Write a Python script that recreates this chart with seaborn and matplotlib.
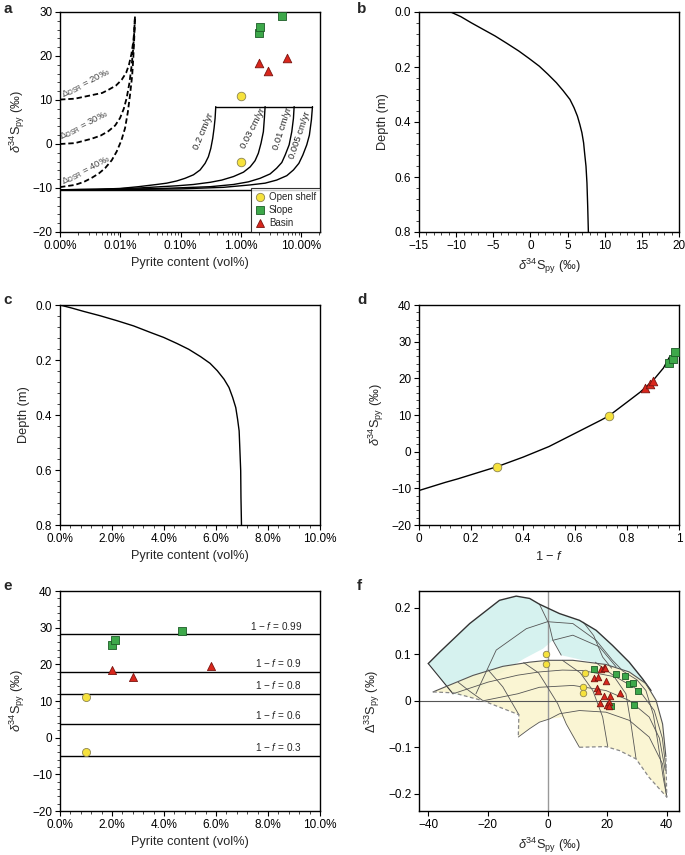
import numpy as np
import pandas as pd
import seaborn as sns
import matplotlib.pyplot as plt
from matplotlib.ticker import FixedLocator, AutoMinorLocator, LogLocator, NullFormatter
from matplotlib.lines import Line2D

sns.set_theme(style='ticks')
plt.rcParams['font.family'] = ['Liberation Sans', 'DejaVu Sans']
plt.rcParams['mathtext.fontset'] = 'custom'
plt.rcParams['mathtext.rm'] = 'Liberation Sans'
plt.rcParams['mathtext.it'] = 'Liberation Sans:italic'
plt.rcParams['mathtext.bf'] = 'Liberation Sans:bold'

# ---- samples: pyrite content (vol%) and d34S (permil)
shelf_pyr = [1.0, 1.0]
shelf_d34 = [11.0, -4.0]
slope_pyr = [2.0, 2.1, 4.7]
slope_d34 = [25.3, 26.7, 29.0]
basin_pyr = [2.0, 2.8, 5.8]
basin_d34 = [18.5, 16.5, 19.5]

# ---- panel a: model curves
dsr20_x = [0.001, 0.00177, 0.00335, 0.0050, 0.00632, 0.0085, 0.01054, 0.0125, 0.0139, 0.0153, 0.0164, 0.0171, 0.0175]
dsr20_y = [10.1, 10.3, 11.1, 11.6, 12.3, 13.3, 14.6, 16.2, 18.0, 20.5, 23.3, 26.0, 29.0]
dsr30_x = [0.001, 0.00177, 0.00335, 0.0047, 0.00632, 0.0082, 0.00989, 0.0114, 0.01276, 0.0142, 0.01545, 0.0163, 0.0169, 0.0175]
dsr30_y = [0.0, 0.2, 1.2, 1.9, 2.9, 4.2, 5.9, 8.0, 10.5, 14.0, 18.0, 21.5, 24.8, 29.0]
dsr40_x = [0.001, 0.00177, 0.0025, 0.00335, 0.0044, 0.00558, 0.0072, 0.00871, 0.0104, 0.01197, 0.0133, 0.01449,
           0.0157, 0.0164, 0.0170, 0.0175]
dsr40_y = [-9.8, -9.3, -8.6, -7.7, -6.7, -5.5, -3.7, -1.7, 0.8, 3.6, 7.2, 11.2, 15.5, 19.5, 24.0, 29.0]
dsr_labels = ['20‰', '30‰', '40‰']

sed02_x = [0.001, 0.004, 0.01, 0.02, 0.040, 0.0588, 0.086, 0.118, 0.163, 0.210, 0.254, 0.288, 0.316, 0.340,
           0.358, 0.372, 0.382]
sed02_y = [-10.4, -10.3, -10.1, -9.7, -9.2, -8.9, -8.4, -7.8, -7.0, -5.9, -4.4, -2.9, -1.0, 1.3, 3.6, 5.8, 8.5]
sed003_x = [0.001, 0.005, 0.02, 0.086, 0.163, 0.31, 0.48, 0.75, 1.10, 1.42, 1.71, 1.94, 2.15, 2.35, 2.44, 2.51]
sed003_y = [-10.4, -10.3, -10.0, -9.5, -9.2, -8.7, -8.2, -7.4, -6.4, -5.2, -3.8, -2.1, 0.2, 2.8, 5.8, 8.5]
sed001_x = [0.001, 0.01, 0.05, 0.31, 0.75, 1.33, 2.07, 3.04, 3.9, 4.75, 5.4, 6.28, 6.95, 7.4, 7.6]
sed001_y = [-10.4, -10.3, -10.1, -9.7, -9.2, -8.6, -7.8, -6.8, -5.5, -4.2, -2.5, -0.2, 2.8, 5.8, 8.5]
sed0005_x = [0.001, 0.01, 0.1, 0.51, 1.42, 2.51, 3.9, 5.74, 7.4, 9.1, 10.6, 12.3, 13.6, 14.7, 15.3]
sed0005_y = [-10.4, -10.35, -10.2, -9.85, -9.3, -8.9, -8.2, -7.2, -5.9, -4.4, -2.5, -0.2, 2.0, 5.5, 8.5]
cap_x = [0.382, 15.3]
cap_y = [8.5, 8.5]
base_d34 = -10.4
rate_labels = ['0.2 cm/yr', '0.03 cm/yr', '0.01 cm/yr', '0.005 cm/yr']

# ---- panel b, c: depth profiles
b_d34 = [-10.73, -9.36, -7.98, -6.38, -4.77, -3.17, -1.56, -0.18, 1.19, 2.34, 3.49, 4.40, 5.32, 5.87, 6.33,
         6.65, 6.93, 7.16, 7.29, 7.48, 7.61, 7.71, 7.80]
b_depth = [0, 0.017, 0.039, 0.063, 0.087, 0.114, 0.142, 0.169, 0.197, 0.226, 0.257, 0.286, 0.318, 0.348, 0.379,
           0.409, 0.439, 0.476, 0.512, 0.561, 0.622, 0.707, 0.8]
c_pyr = [0, 0.45, 0.90, 1.54, 2.19, 2.83, 3.47, 3.99, 4.50, 4.95, 5.41, 5.77, 6.05, 6.31, 6.50, 6.64, 6.76,
         6.83, 6.89, 6.92, 6.95, 6.96, 6.98]
c_depth = [0, 0.011, 0.023, 0.039, 0.057, 0.076, 0.0995, 0.118, 0.140, 0.161, 0.188, 0.212, 0.239, 0.270,
           0.300, 0.336, 0.373, 0.415, 0.458, 0.530, 0.603, 0.700, 0.8]

# ---- panel d: Rayleigh curve
d_frac = [0.0, 0.05, 0.1, 0.15, 0.2, 0.3, 0.4, 0.5, 0.6, 0.7, 0.731, 0.8, 0.85, 0.9, 0.94, 0.965]
d_d34 = [-10.6, -9.5, -8.4, -7.4, -6.3, -4.1, -1.5, 1.4, 5.0, 8.6, 9.8, 13.5, 16.2, 19.4, 22.8, 26.0]
shelf_frac = [0.30, 0.73]
shelf_d34d = [-4.2, 9.7]
basin_frac = [0.868, 0.887, 0.90]
basin_d34d = [17.3, 18.4, 19.3]
slope_frac = [0.963, 0.975, 0.983]
slope_d34d = [24.3, 25.3, 27.3]

# ---- panel e: 1-f levels
e_frac_labels = ['0.99', '0.9', '0.8', '0.6', '0.3']
e_levels = [28.2, 17.9, 12.0, 3.75, -4.9]

# ---- panel f: d34S vs D33S
f_shelf_x = [-0.67, -0.67, 12.7, 12.0, 11.8]
f_shelf_y = [0.101, 0.080, 0.0595, 0.029, 0.017]
f_slope_x = [15.5, 23.0, 26.1, 27.2, 28.8, 30.3, 28.9, 21.4]
f_slope_y = [0.0675, 0.0567, 0.053, 0.0366, 0.038, 0.0207, -0.0086, -0.0123]
f_basin_x = [17.9, 18.8, 19.4, 15.5, 17.0, 19.6, 24.3, 16.6, 16.8, 18.8, 20.9, 17.6, 20.0, 20.7, 20.5]
f_basin_y = [0.069, 0.0714, 0.0714, 0.049, 0.051, 0.042, 0.0164, 0.027, 0.0205, 0.011, 0.011, -0.004, -0.009, -0.0028, -0.0115]

cyan_x = [-40.0, -36.1, -26.1, -16.1, -10.5, -6.0, -2.7, 4.0, 10.7, 16.3, 21.8, 27.4, 31.9, 34.7,
          27.0, 20.0, 12.0, 4.6, 1.8, -1.5, -8.0, -18.0, -25.0, -31.7]
cyan_y = [0.080, 0.105, 0.166, 0.216, 0.225, 0.220, 0.2076, 0.1875, 0.173, 0.1515, 0.119, 0.083, 0.047, 0.022,
          0.062, 0.078, 0.087, 0.098, 0.130, 0.112, 0.090, 0.050, 0.008, 0.015]
yel_x = [-38.4, -25, -15, -6, 0, 8.5, 19.6, 27.4, 33.0, 36.4, 38.6, 39.7, 40.0, 34.1, 29.7, 24.1, 19.6,
         10.7, 8.3, 6.3, 5.0, 0.7, -2.7, -6, -9.8, -9.6, -21.6, -31.5]
yel_y = [0.019, 0.0545, 0.074, 0.083, 0.087, 0.087, 0.078, 0.062, 0.037, 0.001, -0.050, -0.120, -0.207,
         -0.165, -0.125, -0.107, -0.0985, -0.100, -0.075, -0.050, -0.035, -0.039, -0.046, -0.060, -0.078,
         -0.030, 0.0, 0.017]
yel_top_x = [-38.4, -25, -15, -6, 0, 8.5, 19.6, 27.4, 33.0, 36.4, 38.6, 39.7]
yel_top_y = [0.019, 0.0545, 0.074, 0.083, 0.087, 0.087, 0.078, 0.062, 0.037, 0.001, -0.050, -0.120]
yel_dash1_x = [-38.4, -31.5, -21.6, -9.6, -9.8]
yel_dash1_y = [0.019, 0.017, 0.0, -0.030, -0.078]
yel_dash2_x = [10.7, 19.6, 24.1, 29.7, 34.1, 40.0, 39.7]
yel_dash2_y = [-0.100, -0.0985, -0.107, -0.125, -0.165, -0.207, -0.120]
mesh_lines = [
    ([-31.7, -20, -10, -2.7, 5, 11.8, 23, 30.8, 35.8, 38.5, 39.8],
     [0.015, 0.040, 0.055, 0.062, 0.066, 0.065, 0.051, 0.022, -0.021, -0.08, -0.15]),
    ([-21.6, -10, -2.7, 8.5, 19.6, 27.4, 34.1, 37.5, 39.5],
     [0.0, 0.015, 0.029, 0.033, 0.022, 0.0006, -0.035, -0.08, -0.15]),
    ([-9.8, -6, -2.7, 0.7, 4.0, 10.7, 19.6, 27.4, 34.1, 38.6, 40.0],
     [-0.078, -0.060, -0.046, -0.039, -0.028, -0.021, -0.0245, -0.042, -0.078, -0.136, -0.207]),
    ([-8, -3, 0.7, 3.4, 6.3, 10.7], [0.082, 0.06, 0.022, -0.006, -0.05, -0.1]),
    ([5, 11, 15.2, 18.5, 20.2], [0.087, 0.06, 0.022, -0.035, -0.0985]),
    ([16, 22, 26.3, 28, 29.7], [0.083, 0.055, 0.015, -0.05, -0.125]),
    ([25, 30, 33, 35.5, 36.9, 38.8, 40], [0.065, 0.045, 0.022, -0.03, -0.085, -0.165, -0.207]),
    ([-20, -15, -9.6], [0.067, 0.03, -0.03]),
    ([-30, -26, -21.6], [0.04, 0.02, 0.0]),
    ([-24, -17.2, -7.1, 0, 8.5, 16.3, 21.8, 25], [0.015, 0.109, 0.155, 0.170, 0.166, 0.130, 0.087, 0.066]),
    ([1.8, 8.5, 17.4, 23], [0.13, 0.141, 0.116, 0.073]),
    ([-2.7, 0.5, 1.8, 4.6], [0.2076, 0.165, 0.13, 0.098]),
    ([12, 15.5, 18.5, 21.5], [0.169, 0.14, 0.094, 0.07]),
]

YEL, YEL_E = '#f6e23c', '#8c8450'
GRN, GRN_E = '#3da84a', '#1d5c27'
RED, RED_E = '#d9261c', '#7a1510'


def style(ax, minor_x=True, minor_y=True):
    for s in ax.spines.values():
        s.set_visible(True)
        s.set_linewidth(1.0)
        s.set_color('black')
    ax.tick_params(which='major', direction='out', length=3.5, width=0.8, labelsize=8.5,
                   top=False, right=False, colors='black', pad=2)
    ax.tick_params(which='minor', direction='out', length=2, width=0.6, top=False, right=False)
    if minor_x:
        ax.xaxis.set_minor_locator(AutoMinorLocator(5))
    if minor_y:
        ax.yaxis.set_minor_locator(AutoMinorLocator(5))
    ax.grid(False)
    ax.set_facecolor('white')


def samples(ax, xs, ys, s=38):
    for x, y, m, c, e in zip(xs, ys, ['o', 's', '^'], [YEL, GRN, RED], [YEL_E, GRN_E, RED_E]):
        sns.scatterplot(x=x, y=y, marker=m, color=c, edgecolor=e, linewidth=0.6, s=s, ax=ax, zorder=5)


def curve(ax, x, y, **kw):
    sns.lineplot(x=x, y=y, sort=False, estimator=None, ax=ax, **kw)


d34_label = r'$\delta^{34}\mathrm{S}_{\mathrm{py}}$ (‰)'
lbl_kw = dict(fontsize=9.2)

fig = plt.figure(figsize=(6.85, 8.55), dpi=100)
L1, L2, W = 60 / 685, 419 / 685, 260 / 685
H = 220 / 855
B1, B2, B3 = 1 - 232 / 855, 1 - 525 / 855, 1 - 811 / 855

# ---------------- a
ax = fig.add_axes([L1, B1, W, H])
ax.set_xscale('log')
for x, y in [(dsr20_x, dsr20_y), (dsr30_x, dsr30_y), (dsr40_x, dsr40_y)]:
    curve(ax, x, y, color='black', lw=1.3, linestyle=(0, (3, 1.6)))
for x, y in [(sed02_x, sed02_y), (sed003_x, sed003_y), (sed001_x, sed001_y), (sed0005_x, sed0005_y), (cap_x, cap_y)]:
    curve(ax, x, y, color='black', lw=1.0)
ax.axhline(base_d34, color='black', lw=1.0)
for lab, (tx, ty), rot in zip(rate_labels, [(0.238, 2.8), (1.61, 3.6), (4.92, 3.6), (9.55, 2.0)], [67, 63, 72, 71]):
    ax.text(tx, ty, lab, rotation=rot, fontsize=6.8, ha='center', va='center', rotation_mode='anchor')
for lab, (tx, ty) in zip(dsr_labels, [(0.0027, 13.6), (0.0025, 4.1), (0.0027, -6.0)]):
    ax.text(tx, ty, r'$\Delta_{\mathrm{DSR}}$ = ' + lab, rotation=27, fontsize=6.8, color='#444444',
            ha='center', va='center', rotation_mode='anchor')
samples(ax, [shelf_pyr, slope_pyr, basin_pyr], [shelf_d34, slope_d34, basin_d34], s=38)
ax.set_xlim(0.001, 20.4)
ax.set_ylim(-20, 30)
style(ax, minor_x=False)
ax.xaxis.set_major_locator(FixedLocator([0.001, 0.01, 0.1, 1, 10]))
ax.set_xticklabels(['0.00%', '0.01%', '0.10%', '1.00%', '10.00%'])
ax.xaxis.set_minor_locator(LogLocator(base=10, subs=np.arange(2, 10)))
ax.xaxis.set_minor_formatter(NullFormatter())
ax.set_yticks([-20, -10, 0, 10, 20, 30])
ax.set_xlabel('Pyrite content (vol%)', **lbl_kw)
ax.set_ylabel(d34_label, **lbl_kw)
handles = [Line2D([], [], marker='o', ls='', mfc=YEL, mec=YEL_E, ms=6, mew=0.6),
           Line2D([], [], marker='s', ls='', mfc=GRN, mec=GRN_E, ms=6, mew=0.6),
           Line2D([], [], marker='^', ls='', mfc=RED, mec=RED_E, ms=6, mew=0.6)]
leg = ax.legend(handles, ['Open shelf', 'Slope', 'Basin'], loc='lower right', fontsize=7,
                frameon=True, fancybox=False, borderaxespad=0, handletextpad=0.3,
                labelspacing=0.3, borderpad=0.4, handlelength=1.2)
leg.get_frame().set_edgecolor('black')
leg.get_frame().set_linewidth(0.8)

# ---------------- b
ax = fig.add_axes([L2, B1, W, H])
curve(ax, b_d34, b_depth, color='black', lw=1.0)
ax.set_xlim(-15, 20)
ax.set_ylim(0.8, 0)
style(ax)
ax.set_xticks([-15, -10, -5, 0, 5, 10, 15, 20])
ax.set_yticks([0, 0.2, 0.4, 0.6, 0.8])
ax.set_yticklabels(['0.0', '0.2', '0.4', '0.6', '0.8'])
ax.set_xlabel(d34_label, **lbl_kw)
ax.set_ylabel('Depth (m)', **lbl_kw)

# ---------------- c
ax = fig.add_axes([L1, B2, W, H])
curve(ax, c_pyr, c_depth, color='black', lw=1.0)
ax.set_xlim(0, 10)
ax.set_ylim(0.8, 0)
style(ax)
ax.set_xticks([0, 2, 4, 6, 8, 10])
ax.set_xticklabels(['0.0%', '2.0%', '4.0%', '6.0%', '8.0%', '10.0%'])
ax.set_yticks([0, 0.2, 0.4, 0.6, 0.8])
ax.set_yticklabels(['0.0', '0.2', '0.4', '0.6', '0.8'])
ax.set_xlabel('Pyrite content (vol%)', **lbl_kw)
ax.set_ylabel('Depth (m)', **lbl_kw)

# ---------------- d
ax = fig.add_axes([L2, B2, W, H])
curve(ax, d_frac, d_d34, color='black', lw=1.0)
samples(ax, [shelf_frac, slope_frac, basin_frac], [shelf_d34d, slope_d34d, basin_d34d], s=38)
ax.set_xlim(0, 1)
ax.set_ylim(-20, 40)
style(ax)
ax.set_xticks([0, 0.2, 0.4, 0.6, 0.8, 1])
ax.set_xticklabels(['0', '0.2', '0.4', '0.6', '0.8', '1'])
ax.set_yticks([-20, -10, 0, 10, 20, 30, 40])
ax.set_xlabel(r'1 $-$ $\mathit{f}$', **lbl_kw)
ax.set_ylabel(d34_label, **lbl_kw)

# ---------------- e
ax = fig.add_axes([L1, B3, W, H])
for lev, lab in zip(e_levels, e_frac_labels):
    ax.axhline(lev, color='black', lw=1.0)
    ax.text(9.3, lev + 0.7, r'1 $-$ $\mathit{f}$ = ' + lab, fontsize=7.2, ha='right', va='bottom')
samples(ax, [shelf_pyr, slope_pyr, basin_pyr], [shelf_d34, slope_d34, basin_d34], s=34)
ax.set_xlim(0, 10)
ax.set_ylim(-20, 40)
style(ax)
ax.set_xticks([0, 2, 4, 6, 8, 10])
ax.set_xticklabels(['0.0%', '2.0%', '4.0%', '6.0%', '8.0%', '10.0%'])
ax.set_yticks([-20, -10, 0, 10, 20, 30, 40])
ax.set_xlabel('Pyrite content (vol%)', **lbl_kw)
ax.set_ylabel(d34_label, **lbl_kw)

# ---------------- f
ax = fig.add_axes([L2, B3, W, H])
ax.fill(cyan_x, cyan_y, color='#d6f2ef', lw=0, zorder=1)
ax.fill(yel_x, yel_y, color='#faf4cc', alpha=0.85, lw=0, zorder=2)
for x, y in mesh_lines:
    curve(ax, x, y, color='#555555', lw=0.6, zorder=3)
curve(ax, cyan_x[:14], cyan_y[:14], color='#333333', lw=1.0, zorder=3)
curve(ax, cyan_x[-1:] + cyan_x[:1], cyan_y[-1:] + cyan_y[:1], color='#333333', lw=0.8, zorder=3)
curve(ax, yel_top_x, yel_top_y, color='#555555', lw=0.8, zorder=3)
for x, y in [(yel_dash1_x, yel_dash1_y), (yel_dash2_x, yel_dash2_y)]:
    curve(ax, x, y, color='#888888', lw=0.9, linestyle=(0, (3, 2)), zorder=3)
ax.axvline(0, color='#999999', lw=1.0, zorder=2.5)
ax.axhline(0, color='#555555', lw=0.8, zorder=2.5)
samples(ax, [f_shelf_x, f_slope_x, f_basin_x], [f_shelf_y, f_slope_y, f_basin_y], s=22)
ax.set_xlim(-43.1, 44.1)
ax.set_ylim(-0.237, 0.236)
style(ax, minor_x=False, minor_y=False)
ax.set_xticks([-40, -20, 0, 20, 40])
ax.set_yticks([-0.2, -0.1, 0, 0.1, 0.2])
ax.set_yticklabels(['−0.2', '−0.1', '0', '0.1', '0.2'])
ax.set_xlabel(d34_label, **lbl_kw)
ax.set_ylabel(r'$\Delta^{33}\mathrm{S}_{\mathrm{py}}$ (‰)', **lbl_kw)

for lab, (px, py) in zip('abcdef', [(3, 9), (357, 9), (3, 300), (357, 300), (3, 586), (357, 586)]):
    fig.text(px / 685, 1 - py / 855, lab, fontsize=11, fontweight='bold', ha='left', va='center')

fig.savefig('out.png', dpi=100)
